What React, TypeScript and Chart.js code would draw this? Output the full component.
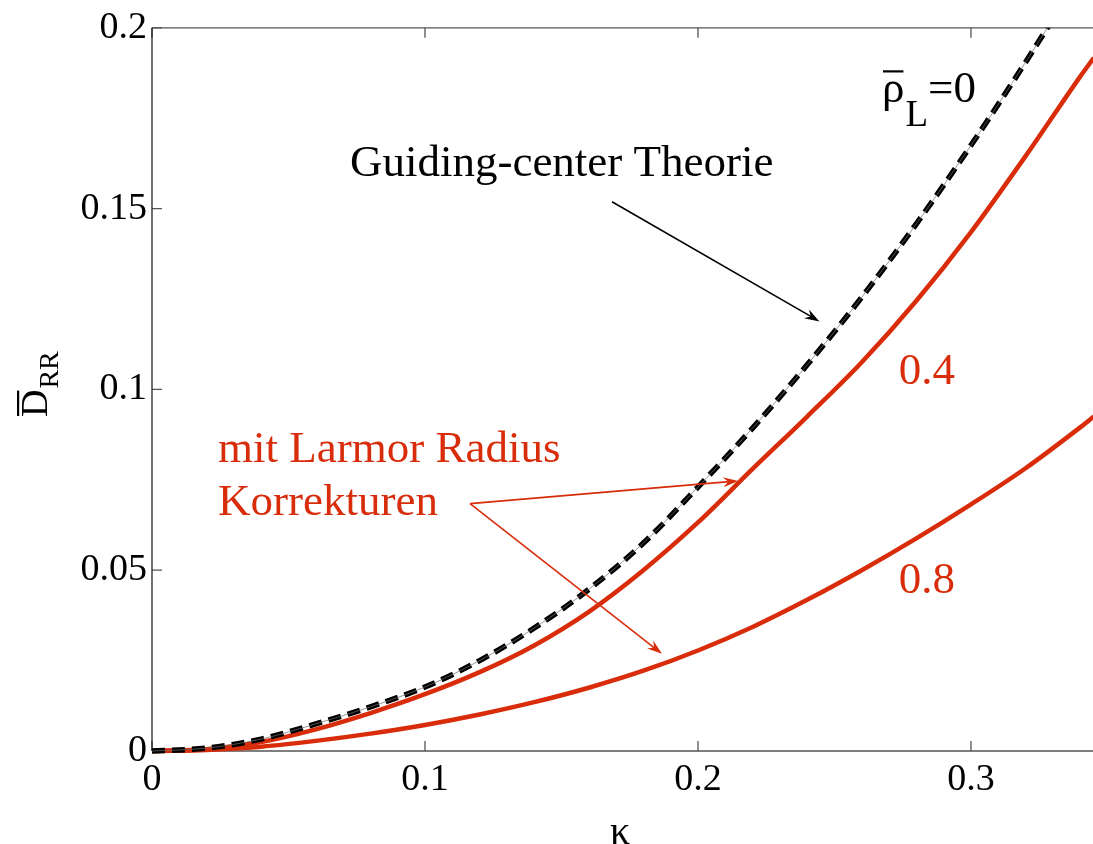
import React, { useEffect, useRef } from 'react';
import { Chart, registerables } from 'chart.js';

Chart.register(...registerables);

// ---- data ----
const kappa = [0, 0.02, 0.04, 0.06, 0.08, 0.10, 0.12, 0.14, 0.16, 0.18, 0.20, 0.22, 0.24, 0.26, 0.28, 0.30, 0.32, 0.34, 0.345];
const dGuidingCenter = [0, 0.0008, 0.0033, 0.0075, 0.0122, 0.0177, 0.0250, 0.0340, 0.0447, 0.0575, 0.0730, 0.0893, 0.1068, 0.1255, 0.1458, 0.1675, 0.1905, 0.2145, 0.2205];
const dRho04 = [0, 0.0005, 0.0025, 0.0060, 0.0105, 0.0157, 0.0218, 0.0292, 0.0385, 0.0500, 0.0632, 0.0780, 0.0925, 0.1075, 0.1245, 0.1435, 0.1645, 0.1865, 0.1917];
const dRho08 = [0, 0.0003, 0.0012, 0.0028, 0.0048, 0.0072, 0.0101, 0.0135, 0.0175, 0.0222, 0.0278, 0.0343, 0.0418, 0.0500, 0.0588, 0.0682, 0.0782, 0.0895, 0.0925];

const xTicks = [0, 0.1, 0.2, 0.3];
const xTickLabels = ['0', '0.1', '0.2', '0.3'];
const yTicks = [0, 0.05, 0.1, 0.15, 0.2];
const yTickLabels = ['0', '0.05', '0.1', '0.15', '0.2'];

const X_MAX = 0.3447;
const Y_MAX = 0.2;

const RED = '#d82c0a';
const SERIF = '"Liberation Serif", "Times New Roman", serif';

const pts = (ys: number[]) => kappa.map((x, i) => ({ x, y: ys[i] }));

function labelFor(v: number, ticks: number[], labels: string[]) {
  const i = ticks.findIndex((t) => Math.abs(t - v) < 1e-9);
  return i >= 0 ? labels[i] : '';
}

function arrow(ctx: CanvasRenderingContext2D, x0: number, y0: number, x1: number, y1: number, color: string, lw: number) {
  const ang = Math.atan2(y1 - y0, x1 - x0);
  const L = 15;
  const W = 5;
  ctx.save();
  ctx.strokeStyle = color;
  ctx.fillStyle = color;
  ctx.lineWidth = lw;
  ctx.beginPath();
  ctx.moveTo(x0, y0);
  ctx.lineTo(x1 - Math.cos(ang) * 6, y1 - Math.sin(ang) * 6);
  ctx.stroke();
  ctx.translate(x1, y1);
  ctx.rotate(ang);
  ctx.beginPath();
  ctx.moveTo(0, 0);
  ctx.lineTo(-L, -W);
  ctx.lineTo(-L + 5, 0);
  ctx.lineTo(-L, W);
  ctx.closePath();
  ctx.fill();
  ctx.restore();
}

const framePlugin = {
  id: 'frame',
  beforeDatasetsDraw(chart: any) {
    const { ctx, chartArea: a, scales } = chart;
    ctx.save();
    ctx.strokeStyle = '#555';
    ctx.lineWidth = 1.3;
    ctx.beginPath();
    ctx.moveTo(a.left, a.top);
    ctx.lineTo(a.right, a.top);
    ctx.moveTo(a.left, a.bottom);
    ctx.lineTo(a.right, a.bottom);
    ctx.stroke();
    ctx.beginPath();
    xTicks.forEach((t) => {
      const px = scales.x.getPixelForValue(t);
      ctx.moveTo(px, a.bottom);
      ctx.lineTo(px, a.bottom - 10);
      ctx.moveTo(px, a.top);
      ctx.lineTo(px, a.top + 10);
    });
    yTicks.forEach((t) => {
      const py = scales.y.getPixelForValue(t);
      ctx.moveTo(a.left, py);
      ctx.lineTo(a.left + 10, py);
    });
    ctx.stroke();
    ctx.strokeStyle = '#222';
    ctx.beginPath();
    ctx.moveTo(a.left, a.top);
    ctx.lineTo(a.left, a.bottom);
    ctx.stroke();
    ctx.restore();
  },
  afterDraw(chart: any) {
    const { ctx, scales, chartArea: a } = chart;
    const X = (v: number) => scales.x.getPixelForValue(v);
    const Y = (v: number) => scales.y.getPixelForValue(v);
    ctx.save();
    ctx.textBaseline = 'alphabetic';
    ctx.textAlign = 'left';

    // Guiding-center Theorie
    ctx.fillStyle = '#000';
    ctx.font = `45px ${SERIF}`;
    ctx.fillText('Guiding-center Theorie', X(0.0725), Y(0.159));
    arrow(ctx, X(0.1685), Y(0.1519), X(0.2445), Y(0.1188), '#000', 1.6);

    // rho_L = 0 label
    {
      const x0 = X(0.2674);
      const y0 = Y(0.1794);
      ctx.font = `45px ${SERIF}`;
      const w = ctx.measureText('ρ').width;
      ctx.fillText('ρ', x0, y0);
      ctx.fillRect(x0 + 1, y0 - 32, w - 2, 2.2);
      ctx.font = `37px ${SERIF}`;
      const xl = x0 + w + 1;
      ctx.fillText('L', xl, y0 + 24);
      const wl = ctx.measureText('L').width;
      ctx.font = `45px ${SERIF}`;
      ctx.fillText('=0', xl + wl, y0);
    }

    // red labels
    ctx.fillStyle = RED;
    ctx.font = `45px ${SERIF}`;
    ctx.fillText('0.4', X(0.2735), Y(0.1014));
    ctx.fillText('0.8', X(0.2735), Y(0.0437));
    ctx.fillText('mit Larmor Radius', X(0.0242), Y(0.0800));
    ctx.fillText('Korrekturen', X(0.0242), Y(0.0654));
    arrow(ctx, X(0.1165), Y(0.0684), X(0.2147), Y(0.0747), RED, 1.6);
    arrow(ctx, X(0.1165), Y(0.0684), X(0.1868), Y(0.0269), RED, 1.6);

    // axis titles
    ctx.fillStyle = '#000';
    ctx.font = `40px ${SERIF}`;
    ctx.textAlign = 'center';
    ctx.fillText('κ', 620, a.bottom + 93);

    ctx.textAlign = 'left';
    ctx.translate(47, 417);
    ctx.rotate(-Math.PI / 2);
    ctx.font = `38px ${SERIF}`;
    const wd = ctx.measureText('D').width;
    ctx.fillText('D', 0, 0);
    ctx.fillRect(1, -30, wd - 2, 2.2);
    ctx.font = `28px ${SERIF}`;
    ctx.fillText('RR', wd + 1, 11);
    ctx.restore();
  },
};

export default function App() {
  const ref = useRef<HTMLCanvasElement | null>(null);

  useEffect(() => {
    document.body.style.margin = '0';
    const canvas = ref.current!;
    const clip = { left: 6, bottom: 6, top: 0, right: 0 } as any;
    const chart = new Chart(canvas, {
      type: 'line',
      data: {
        datasets: [
          {
            data: pts(dGuidingCenter),
            borderColor: '#6e6e6e',
            borderWidth: 0.7,
            pointRadius: 0,
            cubicInterpolationMode: 'monotone',
            clip,
          },
          {
            data: pts(dGuidingCenter),
            borderColor: '#000',
            borderWidth: 5.5,
            borderDash: [13, 7],
            pointRadius: 0,
            cubicInterpolationMode: 'monotone',
            clip,
          },
          {
            data: pts(dRho04),
            borderColor: RED,
            borderWidth: 4.5,
            pointRadius: 0,
            cubicInterpolationMode: 'monotone',
            clip,
          },
          {
            data: pts(dRho08),
            borderColor: RED,
            borderWidth: 4.5,
            pointRadius: 0,
            cubicInterpolationMode: 'monotone',
            clip,
          },
        ],
      },
      options: {
        responsive: false,
        animation: false,
        layout: { padding: { top: 23, left: 0, right: 0, bottom: 0 } },
        plugins: { legend: { display: false }, tooltip: { enabled: false } },
        scales: {
          x: {
            type: 'linear',
            min: 0,
            max: X_MAX,
            grid: { display: false, drawTicks: false },
            border: { display: false },
            afterBuildTicks: (s: any) => {
              s.ticks = xTicks.map((v) => ({ value: v }));
            },
            afterFit: (s: any) => {
              s.height = 93;
            },
            ticks: {
              padding: 6,
              color: '#000',
              font: { family: SERIF, size: 38 },
              callback: (v: any) => labelFor(Number(v), xTicks, xTickLabels),
              maxRotation: 0,
            },
          },
          y: {
            type: 'linear',
            min: 0,
            max: Y_MAX,
            grid: { display: false, drawTicks: false },
            border: { display: false },
            afterBuildTicks: (s: any) => {
              s.ticks = yTicks.map((v) => ({ value: v }));
            },
            afterFit: (s: any) => {
              s.width = 152;
            },
            ticks: {
              padding: 5,
              color: '#000',
              font: { family: SERIF, size: 38 },
              callback: (v: any) => labelFor(Number(v), yTicks, yTickLabels),
            },
          },
        },
      },
      plugins: [framePlugin],
    });
    return () => chart.destroy();
  }, []);

  return <canvas ref={ref} width={1093} height={844} style={{ display: 'block' }} />;
}
